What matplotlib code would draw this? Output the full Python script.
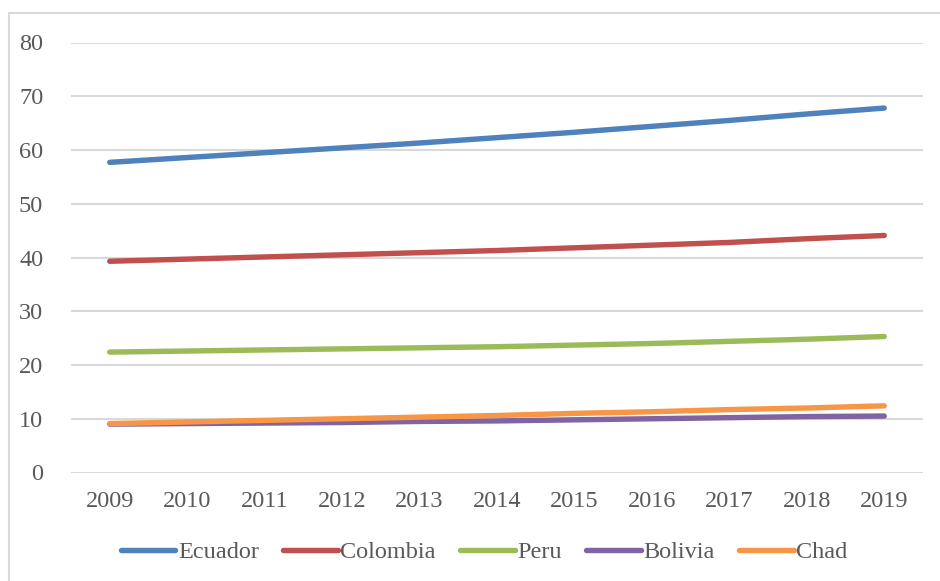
import matplotlib.pyplot as plt
from matplotlib.patches import Rectangle
import numpy as np

years = [2009, 2010, 2011, 2012, 2013, 2014, 2015, 2016, 2017, 2018, 2019]

ecuador = [57.7, 58.6, 59.5, 60.4, 61.3, 62.3, 63.3, 64.4, 65.5, 66.7, 67.8]
colombia = [39.3, 39.7, 40.1, 40.5, 40.9, 41.3, 41.8, 42.3, 42.8, 43.5, 44.1]
peru = [22.4, 22.6, 22.8, 23.0, 23.2, 23.4, 23.7, 24.0, 24.4, 24.8, 25.3]
bolivia = [9.0, 9.1, 9.2, 9.3, 9.5, 9.6, 9.8, 10.0, 10.2, 10.4, 10.5]
chad = [9.1, 9.4, 9.7, 10.0, 10.3, 10.6, 11.0, 11.3, 11.7, 12.0, 12.4]

series = [
    ("Ecuador", ecuador, "#4F81BD"),
    ("Colombia", colombia, "#C0504D"),
    ("Peru", peru, "#9BBB59"),
    ("Bolivia", bolivia, "#8064A2"),
    ("Chad", chad, "#F79646"),
]

plt.rcParams['font.family'] = ['Liberation Serif', 'DejaVu Serif']
text_col = "#595959"

W, H = 940, 581
fig = plt.figure(figsize=(W / 100, H / 100), dpi=100)
ax = fig.add_axes([71 / W, 1 - 472.5 / H, 852 / W, 430 / H])

# outer chart border
fig.patches.append(Rectangle((8.5 / W, -0.01), 1.0, 1 - 13 / H + 0.01,
                             transform=fig.transFigure, fill=False,
                             edgecolor="#d9d9d9", linewidth=1.5))

for name, vals, col in series:
    ax.plot(years, vals, color=col, linewidth=3.9, solid_capstyle='round',
            label=name)

ax.set_xlim(2008.5, 2019.5)
ax.set_ylim(0, 80)
ax.set_xticks(years)
ax.set_yticks(np.arange(0, 81, 10))
ax.grid(axis='y', color="#d9d9d9", linewidth=1.5)
ax.set_axisbelow(True)
for s in ax.spines.values():
    s.set_visible(False)
ax.tick_params(length=0, labelsize=17.5, labelcolor=text_col)
ax.tick_params(axis='y', pad=20)
ax.tick_params(axis='x', pad=13)

leg = ax.legend(loc='center', bbox_to_anchor=(484 / W, 1 - 552 / H),
                bbox_transform=fig.transFigure, ncol=5, frameon=False,
                fontsize=17.5, handlelength=2.25, handletextpad=0.1,
                columnspacing=1.0)
for t in leg.get_texts():
    t.set_color(text_col)

fig.savefig("out.png", dpi=100)
